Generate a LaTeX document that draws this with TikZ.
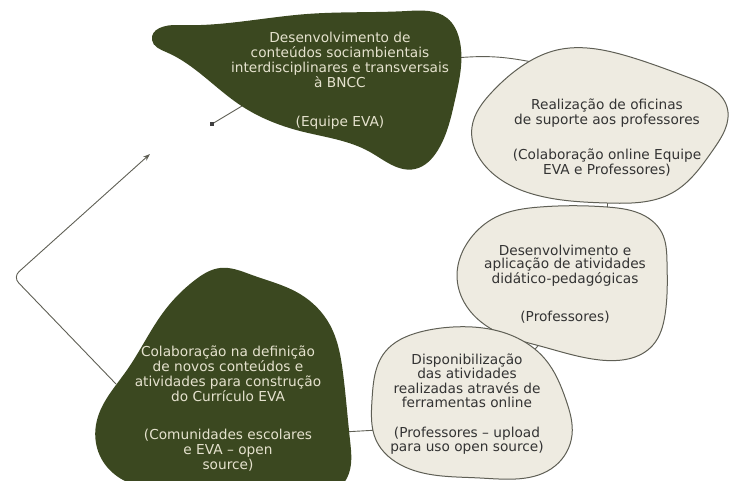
\documentclass[tikz,border=0pt]{standalone}
\usepackage{fontspec}
\setmainfont{DejaVu Sans}
\usetikzlibrary{hobby,arrows.meta}

\definecolor{olive}{RGB}{59,72,32}
\definecolor{paper}{RGB}{238,235,225}
\definecolor{pale}{RGB}{229,226,206}
\definecolor{rim}{RGB}{95,95,85}

\begin{document}
\begin{tikzpicture}[
  x=1pt, y=-1pt,
  use Hobby shortcut,
  darkblob/.style={fill=olive},
  lightblob/.style={fill=paper, draw=rim, line width=1pt},
  link/.style={draw=rim, line width=0.9pt},
  darktext/.style={align=center, text=pale, font=\fontsize{13.7}{15}\selectfont},
  lighttext/.style={align=center, text=black!80, font=\fontsize{13.7}{15}\selectfont}
]
  \useasboundingbox (0,0) rectangle (731,480);

  % free ends of the connectors
  \coordinate (tipA) at (455,58);
  \coordinate (tipB) at (532,62);
  \coordinate (tipC) at (607,196);
  \coordinate (tipD) at (607,214);
  \coordinate (tipE) at (531,354);
  \coordinate (tipF) at (542,341);
  \coordinate (tipG) at (343,432);
  \coordinate (tipH) at (378,430);
  \coordinate (tipI) at (242,106);
  \coordinate (square) at (212,124);
  \coordinate (start) at (116,384);
  \coordinate (bend) at (13,277);
  \coordinate (goal) at (150,154);

  \draw[link] (tipA) to[bend left=8] (tipB);
  \draw[link] (tipC) -- (tipD);
  \draw[link] (tipE) -- (tipF);
  \draw[link] (tipG) -- (tipH);
  \draw[link] (tipI) -- (square);
  \node[fill=black!75, inner sep=0pt, minimum size=4pt] at (square) {};
  \draw[link, rounded corners=8pt, -{Stealth[length=7pt,width=5pt]}]
    (start) -- (bend) -- (goal);

  % blobs
  \path[darkblob] ([closed]152,40) .. (178,25) .. (307,14) .. (407,11) .. (447,18)
    .. (460,42) .. (455,100) .. (438,150) .. (415,169) .. (370,152) .. (300,131)
    .. (240,105) .. (166,52);
  \path[lightblob] ([closed]472,127) .. (492,92) .. (525,64) .. (557,50) .. (627,56)
    .. (690,78) .. (727,107) .. (713,150) .. (672,193) .. (607,203) .. (540,196)
    .. (490,171);
  \path[lightblob] ([closed]457,275) .. (470,239) .. (496,217) .. (540,207) .. (607,207)
    .. (645,216) .. (662,233) .. (667,262) .. (665,315) .. (653,345) .. (600,360)
    .. (540,346) .. (495,331) .. (464,302);
  \path[lightblob] ([closed]372,400) .. (385,352) .. (420,332) .. (453,327) .. (513,336)
    .. (545,359) .. (566,400) .. (572,435) .. (555,466) .. (480,478) .. (405,467)
    .. (376,440);
  \path[darkblob] ([closed]220,268) .. (252,275) .. (300,294) .. (330,325) .. (343,373)
    .. (350,440) .. (347,478) .. (230,486) .. (125,481) .. (100,456) .. (97,420)
    .. (127,370) .. (165,310) .. (195,280);

  % texts
  \node[darktext] (conteudos) at (340,81)
    {Desenvolvimento de\\conteúdos sociambientais\\interdisciplinares e transversais\\à BNCC\\[24pt](Equipe EVA)};
  \node[lighttext] (oficinas) at (607,138)
    {Realização de oficinas\\de suporte aos professores\\[20pt](Colaboração online Equipe\\EVA e Professores)};
  \node[lighttext, font=\fontsize{13.7}{13.5}\selectfont] (atividades) at (565,284)
    {Desenvolvimento e\\aplicação de atividades\\didático-pedagógicas\\[24pt](Professores)};
  \node[lighttext, font=\fontsize{13.7}{14.5}\selectfont] (ferramentas) at (467,404)
    {Disponibilização\\das atividades\\realizadas através de\\ferramentas online\\[15pt](Professores -- upload\\para uso open source)};
  \node[darktext] (curriculo) at (228,409)
    {Colaboração na definição\\de novos conteúdos e\\atividades para construção\\do Currículo EVA\\[23pt](Comunidades escolares\\e EVA -- open\\source)};
\end{tikzpicture}
\end{document}
